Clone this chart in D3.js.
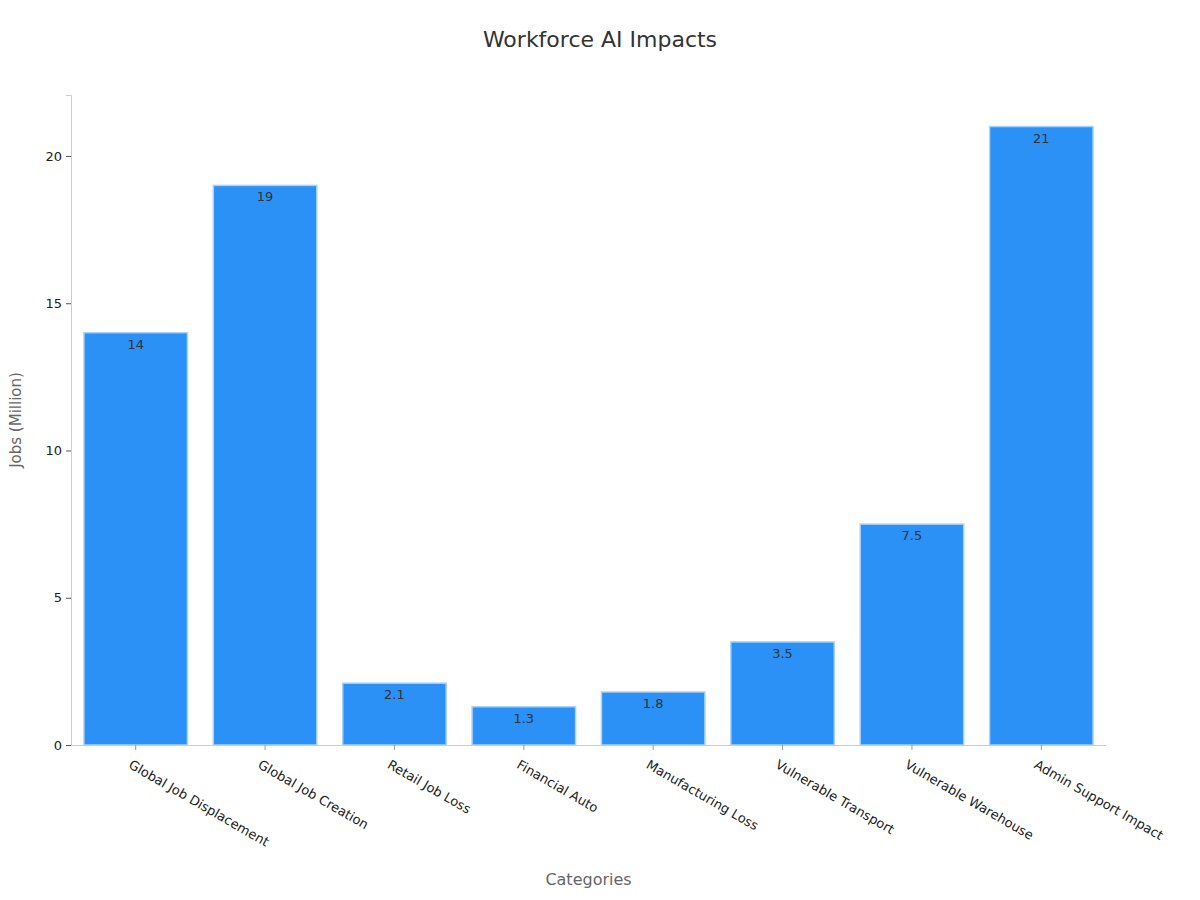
<!DOCTYPE html>
<html>
<head>
<meta charset="utf-8">
<script src="https://cdn.jsdelivr.net/npm/d3@7"></script>
<style>
  body { margin: 0; background: #fff; }
  text { font-family: "DejaVu Sans", sans-serif; }
</style>
</head>
<body>
<script>
// chart data
var categories = ["Global Job Displacement", "Global Job Creation", "Retail Job Loss", "Financial Auto",
                  "Manufacturing Loss", "Vulnerable Transport", "Vulnerable Warehouse", "Admin Support Impact"];
var values = [14, 19, 2.1, 1.3, 1.8, 3.5, 7.5, 21];
var yTicks = [0, 5, 10, 15, 20];

var margin = {top: 95, right: 94, bottom: 155, left: 71},
    width = 1200 - margin.left - margin.right,
    height = 900 - margin.top - margin.bottom;

var svg = d3.select("body").append("svg")
    .attr("width", 1200).attr("height", 900);

svg.append("text")
    .attr("x", 600).attr("y", 47)
    .attr("text-anchor", "middle")
    .attr("font-size", 22).attr("fill", "#333")
    .text("Workforce AI Impacts");

var g = svg.append("g")
    .attr("transform", "translate(" + margin.left + "," + margin.top + ")");

var x = d3.scaleBand().domain(categories).range([0, width]).paddingInner(0.2).paddingOuter(0.1);
var y = d3.scaleLinear().domain([0, 22.07]).range([height, 0]);

// bars
g.selectAll(".bar").data(values).enter().append("rect")
    .attr("class", "bar")
    .attr("x", function(d, i) { return x(categories[i]); })
    .attr("y", function(d) { return y(d); })
    .attr("width", x.bandwidth())
    .attr("height", function(d) { return height - y(d); })
    .attr("fill", "#2b91f7")
    .attr("stroke", "#a9d3fb")
    .attr("stroke-width", 1.5);

// value labels
g.selectAll(".lbl").data(values).enter().append("text")
    .attr("x", function(d, i) { return x(categories[i]) + x.bandwidth() / 2; })
    .attr("y", function(d) { return y(d) + 16; })
    .attr("text-anchor", "middle")
    .attr("font-size", 13).attr("fill", "#333")
    .text(function(d) { return d; });

// Y axis
var yAxis = g.append("g")
    .call(d3.axisLeft(y).tickValues(yTicks).tickSize(5).tickPadding(4));
yAxis.select(".domain").attr("stroke", "#ccc");
yAxis.selectAll(".tick line").attr("stroke", "#555");
yAxis.selectAll("text").attr("font-size", 13).attr("fill", "#222");

// X axis
var xAxis = g.append("g")
    .attr("transform", "translate(0," + height + ")")
    .call(d3.axisBottom(x).tickSize(5).tickSizeOuter(0));
xAxis.select(".domain").attr("stroke", "#ccc");
xAxis.selectAll(".tick line").attr("stroke", "#999");
xAxis.selectAll("text")
    .attr("font-size", 13).attr("fill", "#222")
    .attr("text-anchor", "start")
    .attr("dy", "0.3em")
    .attr("transform", "translate(-2,12) rotate(30)");

// axis titles
svg.append("text")
    .attr("x", margin.left + width / 2 + 0).attr("y", 885)
    .attr("text-anchor", "middle")
    .attr("font-size", 16).attr("fill", "#666")
    .text("Categories");

svg.append("text")
    .attr("transform", "translate(21," + (margin.top + height / 2) + ") rotate(-90)")
    .attr("text-anchor", "middle")
    .attr("font-size", 15).attr("fill", "#666")
    .text("Jobs (Million)");
</script>
</body>
</html>
